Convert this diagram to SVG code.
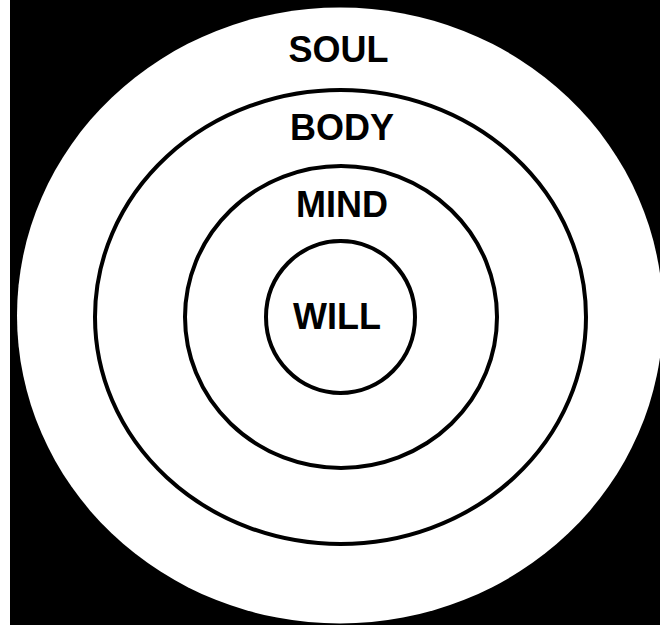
<svg xmlns="http://www.w3.org/2000/svg" width="660" height="627" viewBox="0 0 660 627">
<style>
.ring{fill:none;stroke:#000;stroke-width:4}
.lbl{font-family:"Liberation Sans",Arial,sans-serif;font-weight:bold;font-size:36px;fill:#000;text-anchor:middle}
</style>
<rect x="0" y="0" width="660" height="627" fill="#fff"/>
<rect x="10" y="0" width="650" height="625" fill="#000"/>
<g id="soul">
<ellipse cx="340" cy="315.5" rx="323" ry="308" fill="#fff"/>
<text class="lbl" x="338.5" y="62">SOUL</text>
</g>
<g id="body">
<ellipse class="ring" cx="340.5" cy="317" rx="245.5" ry="227"/>
<text class="lbl" x="342" y="140">BODY</text>
</g>
<g id="mind">
<ellipse class="ring" cx="341" cy="317" rx="156" ry="151"/>
<text class="lbl" x="342" y="217">MIND</text>
</g>
<g id="will">
<ellipse class="ring" cx="340.5" cy="317" rx="74.5" ry="76"/>
<text class="lbl" x="337" y="329">WILL</text>
</g>
<g id="connectors"/>
</svg>
